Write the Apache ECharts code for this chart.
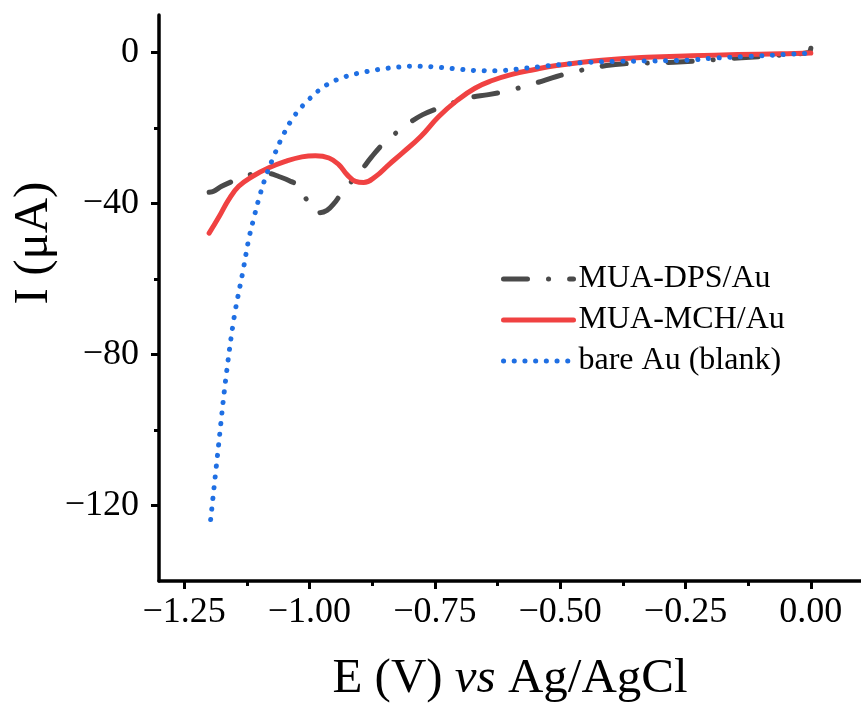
<!DOCTYPE html>
<html>
<head>
<meta charset="utf-8">
<script src="https://cdn.jsdelivr.net/npm/echarts@6/dist/echarts.min.js"></script>
<style>
html,body{margin:0;padding:0;background:#fff;}
#chart{width:861px;height:710px;}
</style>
</head>
<body>
<div id="chart"></div>
<script>
// ---- data ----
const seriesNames = ['MUA-DPS/Au', 'MUA-MCH/Au', 'bare Au (blank)'];

const dpsV = [-1.2, -1.191, -1.175, -1.154, -1.13, -1.104, -1.08, -1.061, -1.04, -1.021, -1.008, -0.995, -0.98, -0.965, -0.95, -0.938, -0.92, -0.901, -0.876, -0.851, -0.806, -0.774, -0.733, -0.684, -0.643, -0.602, -0.548, -0.507, -0.467, -0.408, -0.372, -0.273, -0.146, -0.05, -0.004, 0];
const dpsI = [-37.0, -36.7, -35.4, -34.1, -32.9, -31.9, -32.0, -32.8, -33.9, -35.4, -38.4, -41.6, -42.4, -41.8, -39.8, -37.6, -34.7, -31.9, -27.6, -23.9, -19.1, -16.4, -14.2, -12.0, -11.1, -10.0, -8.0, -6.3, -4.9, -3.4, -2.9, -2.5, -1.4, -0.5, 0.1, 1.2];

const mchV = [-1.2, -1.18, -1.161, -1.141, -1.114, -1.081, -1.048, -1.015, -0.988, -0.961, -0.941, -0.925, -0.908, -0.892, -0.868, -0.842, -0.815, -0.778, -0.742, -0.706, -0.67, -0.634, -0.598, -0.553, -0.507, -0.417, -0.327, -0.237, -0.146, -0.06, 0];
const mchI = [-47.8, -43.4, -38.9, -35.4, -32.8, -30.5, -28.8, -27.6, -27.3, -27.9, -29.7, -32.3, -34.1, -34.4, -32.8, -29.7, -26.6, -22.2, -16.9, -12.7, -9.4, -7.3, -5.8, -4.5, -3.4, -2.0, -1.2, -0.8, -0.5, -0.3, -0.1];

const bareV = [-1.197, -1.182, -1.167, -1.15, -1.132, -1.121, -1.111, -1.1, -1.087, -1.071, -1.053, -1.031, -1.002, -0.968, -0.93, -0.886, -0.844, -0.8, -0.756, -0.714, -0.67, -0.626, -0.584, -0.54, -0.497, -0.453, -0.39, -0.327, -0.282, -0.237, -0.191, -0.128, -0.056, 0];
const bareI = [-123.7, -105.0, -86.6, -70.0, -57.5, -49.4, -43.9, -38.3, -32.8, -27.4, -22.0, -16.9, -12.5, -8.7, -6.4, -5.0, -4.1, -3.6, -3.7, -4.2, -4.7, -4.8, -4.3, -3.7, -3.1, -2.6, -2.3, -2.2, -2.1, -1.9, -1.4, -1.0, -0.5, -0.1];

const xMajorTicks = [-1.25, -1.0, -0.75, -0.5, -0.25, 0];
const xMinorTicks = [-1.125, -0.875, -0.625, -0.375, -0.125];
const yMajorTicks = [0, -40, -80, -120];
const yMinorTicks = [-20, -60, -100];

const xTitle = ['E (V) ', 'vs', ' Ag/AgCl'];
const yTitle = 'I (\u03bcA)';

// ---- chart ----
const FONT = '"Liberation Serif", "Times New Roman", serif';
const zip = (a, b) => a.map((v, i) => [v, b[i]]);
const minus = s => s.replace('-', '\u2212');

const chart = echarts.init(document.getElementById('chart'), null, {renderer: 'canvas'});

const axisLineStyle = {color: '#000', width: 3.5};

chart.setOption({
  animation: false,
  backgroundColor: '#fff',
  grid: {left: 159, top: 15, width: 702, height: 566, containLabel: false},
  xAxis: [{
    type: 'value', min: -1.3, max: 0.1, position: 'bottom',
    axisLine: {show: true, onZero: false, lineStyle: axisLineStyle},
    axisTick: {show: true, customValues: xMajorTicks, length: 8, lineStyle: {color: '#000', width: 3}},
    axisLabel: {customValues: xMajorTicks, margin: 14, color: '#000', fontFamily: FONT, fontSize: 36,
      formatter: v => minus(v.toFixed(2))},
    splitLine: {show: false},
    name: '{n|' + xTitle[0] + '}{i|' + xTitle[1] + '}{n|' + xTitle[2] + '}',
    nameLocation: 'middle', nameGap: 74,
    nameTextStyle: {rich: {
      n: {fontFamily: FONT, fontSize: 49, color: '#000'},
      i: {fontFamily: FONT, fontSize: 49, fontStyle: 'italic', color: '#000'}
    }}
  }, {
    type: 'value', min: -1.3, max: 0.1, position: 'bottom', offset: 0,
    axisLine: {show: false, onZero: false},
    axisTick: {show: true, customValues: xMinorTicks, length: 5, lineStyle: {color: '#000', width: 3}},
    axisLabel: {show: false},
    splitLine: {show: false}
  }],
  yAxis: [{
    type: 'value', min: -140, max: 10, position: 'left',
    axisLine: {show: true, onZero: false, lineStyle: axisLineStyle},
    axisTick: {show: true, customValues: yMajorTicks, length: 8, lineStyle: {color: '#000', width: 3}},
    axisLabel: {customValues: yMajorTicks, margin: 20, color: '#000', fontFamily: FONT, fontSize: 36,
      formatter: v => minus(String(v))},
    splitLine: {show: false}
  }, {
    type: 'value', min: -140, max: 10, position: 'left', offset: 0,
    axisLine: {show: false, onZero: false},
    axisTick: {show: true, customValues: yMinorTicks, length: 5, lineStyle: {color: '#000', width: 3}},
    axisLabel: {show: false},
    splitLine: {show: false}
  }],
  legend: {
    orient: 'vertical', left: 501, top: 263, padding: 0,
    itemWidth: 70, itemHeight: 14, itemGap: 9,
    itemStyle: {opacity: 0, borderWidth: 0},
    lineStyle: {width: 5, cap: 'round'},
    textStyle: {fontFamily: FONT, fontSize: 32, color: '#000'},
    data: seriesNames
  },
  graphic: [{
    type: 'text', x: 34, y: 243, rotation: Math.PI / 2,
    style: {text: yTitle, font: '49px ' + FONT, fill: '#000', align: 'center', verticalAlign: 'middle'}
  }],
  series: [{
    name: seriesNames[0], type: 'line', data: zip(dpsV, dpsI),
    showSymbol: false, symbol: 'none', smooth: 0.35,
    color: '#4a4a4a',
    lineStyle: {color: '#4a4a4a', width: 5, type: [24, 21, 0.1, 21], cap: 'round', join: 'round'}
  }, {
    name: seriesNames[1], type: 'line', data: zip(mchV, mchI),
    showSymbol: false, symbol: 'none', smooth: 0.45,
    color: '#f04242',
    lineStyle: {color: '#f04242', width: 5, type: 'solid', cap: 'round', join: 'round'}
  }, {
    name: seriesNames[2], type: 'line', data: zip(bareV, bareI),
    showSymbol: false, symbol: 'none', smooth: 0.35,
    color: '#1f6fe3',
    lineStyle: {color: '#1f6fe3', width: 5, type: [0.1, 10.6], cap: 'round', join: 'round'}
  }]
});
</script>
</body>
</html>
